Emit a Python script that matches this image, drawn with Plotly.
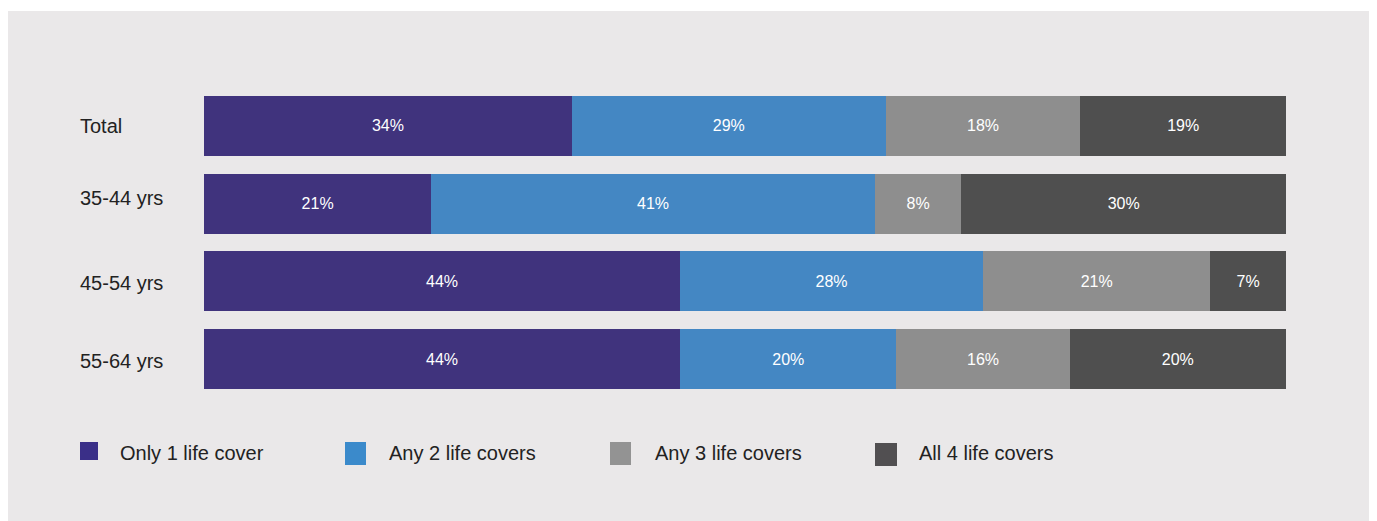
import plotly.graph_objects as go

categories = ["Total", "35-44 yrs", "45-54 yrs", "55-64 yrs"]
series_names = ["Only 1 life cover", "Any 2 life covers", "Any 3 life covers", "All 4 life covers"]
only_1 = [34, 21, 44, 44]
any_2 = [29, 41, 28, 20]
any_3 = [18, 8, 21, 16]
all_4 = [19, 30, 7, 20]
series_values = [only_1, any_2, any_3, all_4]

bar_colors = ["#40337D", "#4487C3", "#8E8E8E", "#4F4F4F"]
legend_colors = ["#3A2F88", "#3B8ACB", "#939393", "#514F51"]

W, H = 1377, 521
FONT = "Liberation Sans, Arial, Helvetica, sans-serif"

fig = go.Figure()
for name, vals, col in zip(series_names, series_values, bar_colors):
    fig.add_trace(go.Bar(
        y=categories, x=vals, name=name, orientation="h",
        marker=dict(color=col, line=dict(width=0)),
        texttemplate="%{x}%", textposition="inside",
        insidetextanchor="middle", constraintext="none",
        textfont=dict(color="white", size=16, family=FONT),
        showlegend=False,
    ))

def px_x(v):
    return v / W

def px_y(v):
    return 1 - v / H

shapes = [dict(type="rect", xref="paper", yref="paper", x0=px_x(8), x1=px_x(1369),
               y0=0, y1=px_y(11), fillcolor="#EAE8E9", line=dict(width=0), layer="below")]
annotations = []
label_yshift = [0, 6, -2, -2]
for c, ys in zip(categories, label_yshift):
    annotations.append(dict(x=px_x(78), y=c, xref="paper", yref="y", text=c,
                            showarrow=False, xanchor="left", yanchor="middle", yshift=ys,
                            font=dict(size=20, color="#222222", family=FONT)))

marker_x = [80, 345, 610, 875]
marker_w = [18, 21, 21, 22]
marker_top = [442, 442, 442, 443]
marker_bot = [460, 465, 465, 466]
text_x = [118, 387, 653, 917]
for i, name in enumerate(series_names):
    shapes.append(dict(type="rect", xref="paper", yref="paper",
                       x0=px_x(marker_x[i]), x1=px_x(marker_x[i] + marker_w[i]),
                       y0=px_y(marker_bot[i]), y1=px_y(marker_top[i]),
                       fillcolor=legend_colors[i], line=dict(width=0)))
    annotations.append(dict(x=px_x(text_x[i]), y=px_y(453), xref="paper", yref="paper",
                            text=name, showarrow=False, xanchor="left", yanchor="middle",
                            font=dict(size=20, color="#222222", family=FONT)))

fig.update_layout(
    width=W, height=H, barmode="stack", bargap=18 / 78,
    margin=dict(l=0, r=0, t=0, b=0),
    paper_bgcolor="white", plot_bgcolor="rgba(0,0,0,0)",
    xaxis=dict(domain=[px_x(204), px_x(1286)], range=[0, 100], visible=False, fixedrange=True),
    yaxis=dict(domain=[1 - 398 / H, 1 - 87 / H], categoryorder="array", categoryarray=categories,
               autorange="reversed", visible=False, fixedrange=True),
    shapes=shapes, annotations=annotations,
    font=dict(family=FONT),
)

fig.write_html("out.html", config={"displayModeBar": False})
